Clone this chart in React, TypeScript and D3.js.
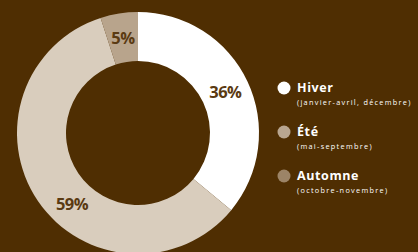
import React from "react";
import * as d3 from "d3";

const seasons = ["Hiver", "Automne", "Été"];
const shares = [36, 59, 5];
const sliceColors = ["#ffffff", "#d9cdbd", "#b8a48c"];
const pctLabels = ["36%", "59%", "5%"];

const legendTitles = ["Hiver", "Été", "Automne"];
const legendSubs = ["(janvier-avril, décembre)", "(mai-septembre)", "(octobre-novembre)"];
const legendColors = ["#ffffff", "#b9a690", "#9c8467"];

const W = 418;
const H = 252;
const BG = "#4f2e02";
const LABEL_SHIFT = [0, -0.22, 0];

export default function App() {
  const cx = 138;
  const cy = 133;
  const outerR = 121;
  const innerR = 72;
  const pie = d3.pie<number>().sort(null).value((d) => d)(shares);
  const arc = d3.arc<d3.PieArcDatum<number>>().innerRadius(innerR).outerRadius(outerR);
  const midR = (innerR + outerR) / 2;
  const legendY = d3.scalePoint<string>().domain(legendTitles).range([88, 176]);

  return (
    <svg
      width={W}
      height={H}
      style={{ position: "fixed", left: 0, top: 0, background: BG }}
    >
      <rect width={W} height={H} fill={BG} />
      <g transform={`translate(${cx},${cy})`}>
        {pie.map((p, i) => (
          <path key={seasons[i]} d={arc(p) || ""} fill={sliceColors[i]} />
        ))}
        {pie.map((p, i) => {
          const a = (p.startAngle + p.endAngle) / 2 + LABEL_SHIFT[i];
          const x = midR * Math.sin(a);
          const y = -midR * Math.cos(a);
          return (
            <text
              key={"l" + i}
              x={x}
              y={y}
              textAnchor="middle"
              dominantBaseline="central"
              fontFamily="'Open Sans', sans-serif"
              fontWeight={700}
              fontSize={16.5}
              letterSpacing={-0.6}
              fill="#5a3a12"
            >
              {pctLabels[i]}
            </text>
          );
        })}
      </g>
      {legendTitles.map((t, i) => {
        const y = legendY(t) as number;
        return (
          <g key={t}>
            <circle cx={284} cy={y} r={6.5} fill={legendColors[i]} />
            <text
              x={297}
              y={y + 3.5}
              fontFamily="'Open Sans', sans-serif"
              fontWeight={700}
              fontSize={12.5}
              letterSpacing={0.6}
              fill="#ffffff"
            >
              {t}
            </text>
            <text
              x={297}
              y={y + 16.5}
              fontFamily="'Open Sans', sans-serif"
              fontSize={7.3}
              letterSpacing={1.3}
              fill="#ffffff"
            >
              {legendSubs[i]}
            </text>
          </g>
        );
      })}
    </svg>
  );
}
